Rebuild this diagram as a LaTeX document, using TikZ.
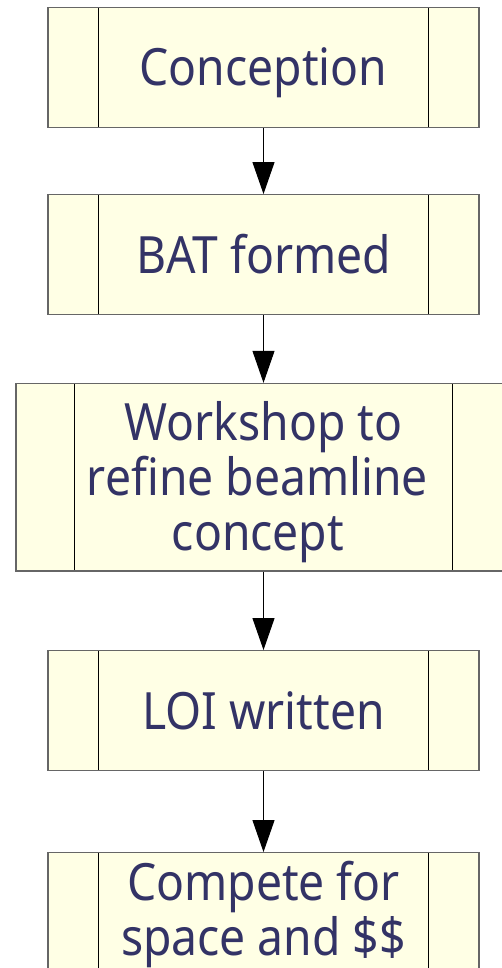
\documentclass[tikz,border=0pt]{standalone}
\usepackage{fontspec}
\newfontfamily\boxfont{Noto Sans}[FakeStretch=0.9]
\usetikzlibrary{arrows.meta}
\definecolor{boxfill}{HTML}{FFFFE5}
\definecolor{boxtext}{HTML}{333366}
\definecolor{boxline}{HTML}{666666}
\tikzset{
  procbox/.style={draw=boxline, line width=1.3pt, fill=boxfill, inner sep=0pt,
    text=boxtext, align=center, font=\boxfont\fontsize{51.4}{55}\selectfont,
    path picture={
      \draw[black, line width=1pt]
        ([xshift=#1]path picture bounding box.north west) -- ([xshift=#1]path picture bounding box.south west)
        ([xshift=-#1]path picture bounding box.north east) -- ([xshift=-#1]path picture bounding box.south east);
    }},
  flow/.style={draw=black, line width=1pt, -{Triangle[length=32pt,width=22pt]}}
}
\begin{document}
\begin{tikzpicture}[x=1pt,y=-1pt]
\useasboundingbox (0,0) rectangle (502,968);
\clip (0,0) rectangle (502,968);
\node[procbox=50.5pt, minimum width=431pt, minimum height=120.2pt, text height=36.7pt, text depth=0pt] (b1) at (263.5,67.6) {Conception};
\node[procbox=50.5pt, minimum width=431pt, minimum height=120pt, text height=36.7pt, text depth=0pt] (b2) at (263.5,254.7) {BAT formed};
\node[procbox=58.5pt, minimum width=495pt, minimum height=187.5pt, text height=146.7pt, text depth=0pt] (b3) at (263.5,477.25) {Workshop to\\refine beamline\kern12pt\\concept\kern11pt};
\node[procbox=50.5pt, minimum width=431pt, minimum height=120pt, text height=36.7pt, text depth=0pt] (b4) at (263.5,710.7) {LOI written};
\node[procbox=50.5pt, minimum width=431pt, minimum height=200pt, text height=91.7pt, text depth=87.1pt] (b5) at (263.5,952.7) {Compete for\\space and \$\$};
\draw[flow] (b1.south) -- (b2.north);
\draw[flow] (b2.south) -- (b3.north);
\draw[flow] (b3.south) -- (b4.north);
\draw[flow] (b4.south) -- (b5.north);
\end{tikzpicture}
\end{document}
